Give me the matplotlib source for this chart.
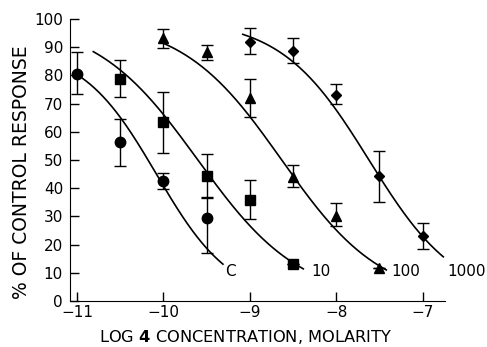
import numpy as np
import matplotlib
matplotlib.use('Agg')
import matplotlib.pyplot as plt

# data (log molar concentration vs % of control)
x_c = [-11, -10.5, -10, -9.5]
y_c = [80.5, 56.5, 42.6, 29.5]
lo_c = [73.3, 48, 39.6, 17]
hi_c = [88.2, 64.5, 45.5, 36.6]

x_10 = [-10.5, -10, -9.5, -9, -8.5]
y_10 = [78.7, 63.4, 44.5, 35.8, 13]
lo_10 = [72.5, 52.6, 36.8, 29, 13]
hi_10 = [85.5, 74.2, 52.2, 42.9, 13]

x_100 = [-10, -9.5, -9, -8.5, -8, -7.5]
y_100 = [93.1, 88.2, 72, 44.1, 30.3, 11.6]
lo_100 = [89.8, 85.6, 65.4, 40.3, 26.6, 11.6]
hi_100 = [96.5, 90.9, 78.6, 48.2, 34.6, 11.6]

x_1000 = [-9, -8.5, -8, -7.5, -7]
y_1000 = [92, 88.7, 73, 44.3, 23.2]
lo_1000 = [87.5, 84.3, 69.8, 35.2, 18.3]
hi_1000 = [96.7, 93.2, 77, 53.2, 27.8]

# fitted dose-response curves: top, hill slope, log EC50, x range
curve_names = ['C', '10', '100', '1000']
curve_top = [90, 100, 100, 100]
curve_slope = [1.0, 0.73, 0.75, 0.85]
curve_x50 = [-10.08, -9.6, -8.63, -7.62]
curve_start = [-11.0, -10.81, -10.0, -9.08]
curve_end = [-9.31, -8.38, -7.42, -6.76]
label_x = [-9.29, -8.29, -7.36, -6.71]
label_y = [10.4, 10.4, 10.4, 10.4]

fig = plt.figure(figsize=(4.87, 3.47), dpi=100)
ax = fig.add_axes([0.1437, 0.1326, 0.7701, 0.8126])

for top, n, x50, x0, x1 in zip(curve_top, curve_slope, curve_x50, curve_start, curve_end):
    xs = np.linspace(x0, x1, 200)
    ax.plot(xs, top / (1 + 10 ** (n * (xs - x50))), color='black', lw=1.2)

series = [
    (x_c, y_c, lo_c, hi_c, 'o', 7.5),
    (x_10, y_10, lo_10, hi_10, 's', 7),
    (x_100, y_100, lo_100, hi_100, '^', 7.5),
    (x_1000, y_1000, lo_1000, hi_1000, 'D', 5.5),
]
for xs, ys, lo, hi, m, ms in series:
    ys = np.array(ys)
    err = [ys - np.array(lo), np.array(hi) - ys]
    ax.errorbar(xs, ys, yerr=err, fmt=m, color='black', ms=ms,
                ecolor='black', elinewidth=1.0, capsize=4, capthick=1.0)

for name, lx, ly in zip(curve_names, label_x, label_y):
    ax.text(lx, ly, name, fontsize=11, va='center', ha='left', clip_on=False)

ax.set_xlim(-11.08, -6.74)
ax.set_ylim(0, 100)
ax.set_xticks([-11, -10, -9, -8, -7])
ax.set_xticklabels(['\u221211', '\u221210', '\u22129', '\u22128', '\u22127'])
ax.set_yticks(range(0, 101, 10))
ax.spines['top'].set_visible(False)
ax.spines['right'].set_visible(False)
ax.tick_params(direction='in', length=6.5, width=1.0, labelsize=11)
ax.tick_params(axis='y', pad=5)
ax.tick_params(axis='x', pad=3)

ax.set_xlabel(r'LOG $\mathbf{4}$ CONCENTRATION, MOLARITY', fontsize=11.7)
ax.xaxis.set_label_coords(0.469, -0.128)
ax.set_ylabel('% OF CONTROL RESPONSE', fontsize=13.5)
ax.yaxis.set_label_coords(-0.128, 0.456)
ax.yaxis.label.set_va('center')
ax.xaxis.label.set_va('center')

fig.savefig('out.png', dpi=100)
